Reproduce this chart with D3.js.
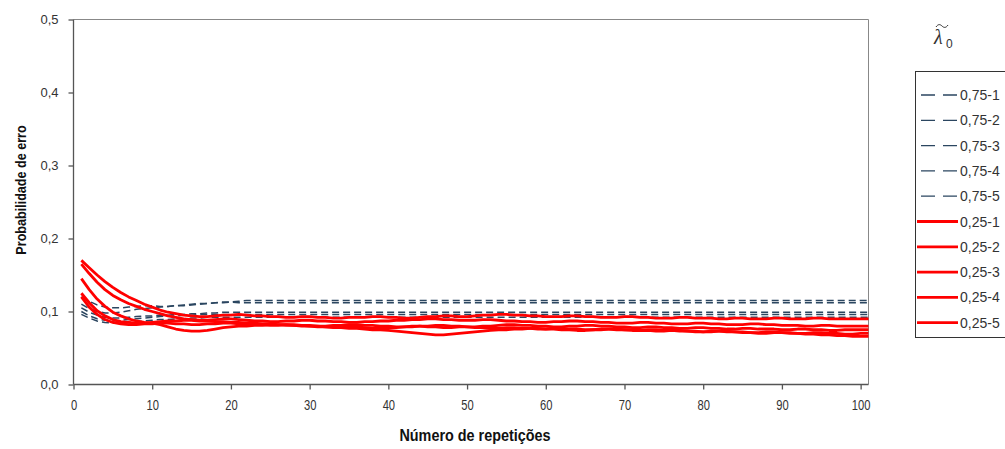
<!DOCTYPE html>
<html>
<head>
<meta charset="utf-8">
<script src="https://cdn.jsdelivr.net/npm/d3@7"></script>
<style>
  body { margin: 0; background: #fff; }
  svg { display: block; }
</style>
</head>
<body>
<div id="chart"></div>
<script>
// Series data, x = 1..101
var seriesNames = ['0,75-1', '0,75-2', '0,75-3', '0,75-4', '0,75-5',
                   '0,25-1', '0,25-2', '0,25-3', '0,25-4', '0,25-5'];

var b1 = [0.120,0.114,0.109,0.106,0.105,0.105,0.106,0.107,0.108,0.108,
          0.107,0.107,0.108,0.109,0.110,0.111,0.111,0.112,0.112,0.113,
          0.114,0.115,0.115,0.115,0.115,0.115,0.115,0.115,0.115,0.115,
          0.115,0.115,0.115,0.115,0.115,0.115,0.115,0.115,0.115,0.115,
          0.115,0.115,0.115,0.115,0.115,0.115,0.115,0.115,0.115,0.115,
          0.115,0.115,0.115,0.115,0.115,0.115,0.115,0.115,0.115,0.115,
          0.115,0.115,0.115,0.115,0.115,0.115,0.115,0.115,0.115,0.115,
          0.115,0.115,0.115,0.115,0.115,0.115,0.115,0.115,0.115,0.115,
          0.115,0.115,0.115,0.115,0.115,0.115,0.115,0.115,0.115,0.115,
          0.115,0.115,0.115,0.115,0.115,0.115,0.115,0.115,0.115,0.115,0.115];
var b2 = [0.110,0.104,0.100,0.098,0.098,0.099,0.101,0.103,0.104,0.105,
          0.106,0.107,0.108,0.108,0.109,0.110,0.111,0.112,0.113,0.113,
          0.112,0.112,0.112,0.112,0.112,0.112,0.112,0.112,0.112,0.112,
          0.112,0.112,0.112,0.112,0.112,0.112,0.112,0.112,0.112,0.112,
          0.112,0.112,0.112,0.112,0.112,0.112,0.112,0.112,0.112,0.112,
          0.112,0.112,0.112,0.112,0.112,0.112,0.112,0.112,0.112,0.112,
          0.112,0.112,0.112,0.112,0.112,0.112,0.112,0.112,0.112,0.112,
          0.112,0.112,0.112,0.112,0.112,0.112,0.112,0.112,0.112,0.112,
          0.112,0.112,0.112,0.112,0.112,0.112,0.112,0.112,0.112,0.112,
          0.112,0.112,0.112,0.112,0.112,0.112,0.112,0.112,0.112,0.112,0.112];
var b3 = [0.105,0.099,0.095,0.092,0.091,0.091,0.092,0.093,0.094,0.094,
          0.095,0.095,0.096,0.096,0.097,0.097,0.098,0.098,0.099,0.099,
          0.099,0.099,0.099,0.099,0.099,0.099,0.099,0.099,0.099,0.099,
          0.099,0.099,0.099,0.099,0.099,0.099,0.099,0.099,0.099,0.099,
          0.099,0.099,0.099,0.099,0.099,0.099,0.099,0.099,0.099,0.099,
          0.099,0.099,0.099,0.099,0.099,0.099,0.099,0.099,0.099,0.099,
          0.099,0.099,0.099,0.099,0.099,0.099,0.099,0.099,0.099,0.099,
          0.099,0.099,0.099,0.099,0.099,0.099,0.099,0.099,0.099,0.099,
          0.099,0.099,0.099,0.099,0.099,0.099,0.099,0.099,0.099,0.099,
          0.099,0.099,0.099,0.099,0.099,0.099,0.099,0.099,0.099,0.099,0.099];
var b4 = [0.100,0.094,0.090,0.088,0.087,0.088,0.089,0.090,0.091,0.092,
          0.093,0.094,0.094,0.095,0.095,0.096,0.096,0.096,0.096,0.096,
          0.096,0.096,0.096,0.096,0.096,0.096,0.096,0.096,0.096,0.096,
          0.096,0.096,0.096,0.096,0.096,0.096,0.096,0.096,0.096,0.096,
          0.096,0.096,0.096,0.096,0.096,0.096,0.096,0.096,0.096,0.096,
          0.096,0.096,0.096,0.096,0.096,0.096,0.096,0.096,0.096,0.096,
          0.096,0.096,0.096,0.096,0.096,0.096,0.096,0.096,0.096,0.096,
          0.096,0.096,0.096,0.096,0.096,0.096,0.096,0.096,0.096,0.096,
          0.096,0.096,0.096,0.096,0.096,0.096,0.096,0.096,0.096,0.096,
          0.096,0.096,0.096,0.096,0.096,0.096,0.096,0.096,0.096,0.096,0.096];
var b5 = [0.096,0.091,0.087,0.085,0.084,0.084,0.085,0.086,0.087,0.088,
          0.089,0.089,0.090,0.090,0.091,0.091,0.092,0.092,0.092,0.092,
          0.092,0.092,0.092,0.092,0.092,0.092,0.092,0.092,0.092,0.092,
          0.092,0.092,0.092,0.092,0.092,0.092,0.092,0.092,0.092,0.092,
          0.092,0.092,0.092,0.092,0.092,0.092,0.092,0.092,0.092,0.092,
          0.092,0.092,0.092,0.092,0.092,0.092,0.092,0.092,0.092,0.092,
          0.092,0.092,0.092,0.092,0.092,0.092,0.092,0.092,0.092,0.092,
          0.092,0.092,0.092,0.092,0.092,0.092,0.092,0.092,0.092,0.092,
          0.092,0.092,0.092,0.092,0.092,0.092,0.092,0.092,0.092,0.092,
          0.092,0.092,0.092,0.092,0.092,0.092,0.092,0.092,0.092,0.092,0.092];

var r1 = [0.170,0.160,0.150,0.141,0.133,0.126,0.120,0.115,0.110,0.106,
          0.102,0.099,0.097,0.095,0.094,0.093,0.093,0.094,0.095,0.095,
          0.096,0.095,0.094,0.094,0.093,0.093,0.092,0.092,0.093,0.093,
          0.092,0.092,0.091,0.091,0.092,0.092,0.092,0.093,0.093,0.092,
          0.092,0.091,0.091,0.092,0.093,0.093,0.094,0.094,0.093,0.093,
          0.094,0.095,0.095,0.096,0.096,0.095,0.095,0.094,0.094,0.093,
          0.093,0.093,0.094,0.094,0.093,0.093,0.092,0.092,0.092,0.093,
          0.093,0.092,0.092,0.091,0.091,0.091,0.092,0.092,0.091,0.091,
          0.091,0.090,0.090,0.091,0.091,0.090,0.090,0.090,0.091,0.091,
          0.090,0.090,0.090,0.091,0.091,0.090,0.090,0.090,0.090,0.090,0.090];
var r2 = [0.165,0.152,0.140,0.130,0.122,0.116,0.111,0.107,0.103,0.100,
          0.097,0.094,0.092,0.090,0.089,0.088,0.088,0.089,0.090,0.090,
          0.089,0.088,0.087,0.087,0.086,0.086,0.087,0.087,0.088,0.088,
          0.087,0.087,0.086,0.086,0.085,0.085,0.086,0.086,0.087,0.087,
          0.088,0.088,0.089,0.089,0.090,0.090,0.089,0.089,0.088,0.088,
          0.088,0.089,0.089,0.088,0.087,0.087,0.086,0.086,0.085,0.085,
          0.086,0.086,0.087,0.087,0.086,0.086,0.085,0.085,0.084,0.084,
          0.084,0.085,0.085,0.084,0.084,0.083,0.083,0.083,0.084,0.084,
          0.083,0.083,0.082,0.082,0.082,0.083,0.083,0.082,0.082,0.081,
          0.081,0.081,0.080,0.080,0.081,0.081,0.080,0.080,0.080,0.080,0.080];
var r3 = [0.145,0.130,0.117,0.107,0.099,0.094,0.090,0.087,0.085,0.084,
          0.082,0.079,0.076,0.074,0.073,0.073,0.074,0.076,0.078,0.079,
          0.080,0.080,0.081,0.081,0.082,0.082,0.081,0.081,0.080,0.080,
          0.079,0.079,0.078,0.078,0.079,0.079,0.078,0.077,0.077,0.078,
          0.078,0.079,0.079,0.080,0.080,0.081,0.081,0.080,0.080,0.079,
          0.079,0.080,0.080,0.081,0.082,0.082,0.081,0.081,0.080,0.080,
          0.079,0.079,0.080,0.080,0.081,0.081,0.080,0.080,0.079,0.079,
          0.078,0.078,0.079,0.079,0.078,0.078,0.077,0.077,0.078,0.078,
          0.077,0.077,0.076,0.076,0.077,0.077,0.076,0.076,0.076,0.075,
          0.075,0.076,0.076,0.075,0.075,0.074,0.074,0.075,0.075,0.075,0.075];
var r4 = [0.125,0.112,0.101,0.094,0.089,0.086,0.085,0.084,0.084,0.085,
          0.086,0.087,0.087,0.088,0.088,0.087,0.087,0.086,0.086,0.085,
          0.085,0.084,0.084,0.083,0.083,0.082,0.082,0.081,0.081,0.080,
          0.080,0.079,0.079,0.078,0.077,0.077,0.076,0.075,0.075,0.074,
          0.073,0.072,0.071,0.070,0.069,0.068,0.068,0.069,0.070,0.071,
          0.072,0.073,0.074,0.075,0.075,0.076,0.076,0.077,0.077,0.076,
          0.076,0.075,0.075,0.074,0.074,0.075,0.075,0.076,0.076,0.075,
          0.075,0.074,0.074,0.073,0.073,0.074,0.074,0.073,0.073,0.072,
          0.072,0.073,0.073,0.072,0.072,0.071,0.071,0.072,0.072,0.071,
          0.071,0.070,0.070,0.071,0.071,0.070,0.070,0.069,0.069,0.070,0.070];
var r5 = [0.120,0.106,0.096,0.089,0.085,0.083,0.082,0.082,0.083,0.083,
          0.084,0.084,0.083,0.083,0.082,0.082,0.083,0.083,0.084,0.084,
          0.083,0.083,0.082,0.082,0.081,0.081,0.082,0.082,0.081,0.081,
          0.080,0.080,0.081,0.081,0.082,0.082,0.081,0.081,0.080,0.080,
          0.079,0.079,0.080,0.080,0.079,0.079,0.078,0.078,0.079,0.079,
          0.078,0.078,0.077,0.077,0.078,0.078,0.077,0.077,0.076,0.076,
          0.077,0.077,0.076,0.076,0.075,0.075,0.076,0.076,0.075,0.075,
          0.074,0.074,0.075,0.075,0.074,0.074,0.073,0.073,0.072,0.072,
          0.073,0.073,0.072,0.072,0.071,0.071,0.070,0.070,0.071,0.071,
          0.070,0.070,0.069,0.069,0.068,0.068,0.067,0.067,0.066,0.066,0.066];

var seriesValues = [b1, b2, b3, b4, b5, r1, r2, r3, r4, r5];
var xTicks = [0, 10, 20, 30, 40, 50, 60, 70, 80, 90, 100];
var yTicks = [0, 0.1, 0.2, 0.3, 0.4, 0.5];

var width = 1005,
    height = 449,
    plotLeft = 73.5,
    plotRight = 868.5,
    plotTop = 19.5,
    plotBottom = 384.5,
    blueColor = '#2b4660',
    redColor = '#ff0000',
    axisColor = '#555',
    sansFont = '"Liberation Sans", Arial, sans-serif';

var svg = d3.select('#chart').append('svg')
            .attr('width', width)
            .attr('height', height);

var x = d3.scaleLinear().domain([0, 101]).range([plotLeft, plotRight]);
var y = d3.scaleLinear().domain([0, 0.5]).range([plotBottom, plotTop]);
var comma = function(v){ return d3.format('.1f')(v).replace('.', ','); };

// plot frame (top and right)
svg.append('path')
   .attr('d', `M${plotLeft},${plotTop}H${plotRight}V${plotBottom}`)
   .attr('fill', 'none')
   .attr('stroke', '#888')
   .attr('stroke-width', 1);

// axes
var yAxis = svg.append('g')
   .attr('transform', `translate(${plotLeft},0)`)
   .call(d3.axisLeft(y).tickValues(yTicks).tickSize(5).tickPadding(10).tickFormat(comma));
var xAxis = svg.append('g')
   .attr('transform', `translate(0,${plotBottom})`)
   .call(d3.axisBottom(x).tickValues(xTicks).tickSize(5).tickPadding(11).tickFormat(d3.format('d')));

yAxis.select('.domain').attr('d', `M0,${plotTop}V${plotBottom}`);
xAxis.select('.domain').attr('d', `M${plotLeft},0H${plotRight}`);
[yAxis, xAxis].forEach(function(a){
  a.selectAll('.domain, .tick line').attr('stroke', axisColor).attr('stroke-width', 1.3);
  a.selectAll('.tick text').attr('fill', '#333');
});
yAxis.selectAll('.tick text')
     .style('font-family', sansFont)
     .style('font-size', '13px');
// narrow look of the x labels
xAxis.selectAll('.tick text')
     .style('font-family', sansFont)
     .style('font-size', '14px')
     .attr('transform', 'scale(0.8,1)');

// axis titles
svg.append('text')
   .attr('transform', `translate(${(plotLeft + plotRight) / 2 + 4},441) scale(0.9,1)`)
   .attr('text-anchor', 'middle')
   .style('font-family', sansFont)
   .style('font-weight', 'bold')
   .style('font-size', '16px')
   .attr('fill', '#111')
   .text('Número de repetições');

svg.append('text')
   .attr('transform', 'translate(26,190) rotate(-90) scale(0.9,1)')
   .attr('text-anchor', 'middle')
   .style('font-family', sansFont)
   .style('font-weight', 'bold')
   .style('font-size', '14px')
   .attr('fill', '#111')
   .text('Probabilidade de erro');

// series lines
var line = d3.line()
             .x(function(d, i){ return x(i + 1); })
             .y(function(d){ return y(d); });

svg.append('g')
   .selectAll('path')
   .data(seriesValues)
   .enter().append('path')
   .attr('d', line)
   .attr('fill', 'none')
   .attr('stroke', function(d, i){ return i < 5 ? blueColor : redColor; })
   .attr('stroke-width', function(d, i){ return i < 5 ? 1.5 : 2.8; })
   .attr('stroke-dasharray', function(d, i){ return i < 5 ? '7,4' : null; })
   .attr('stroke-linejoin', 'round');

// legend
var legend = svg.append('g');
legend.append('rect')
      .attr('x', 915.5)
      .attr('y', 71.5)
      .attr('width', 100)
      .attr('height', 266)
      .attr('fill', '#fff')
      .attr('stroke', '#333')
      .attr('stroke-width', 1);

// lambda, a small tilde drawn above it, and subscript 0
legend.append('text')
      .attr('x', 934)
      .attr('y', 44)
      .style('font-family', '"Liberation Serif", "Times New Roman", serif')
      .style('font-style', 'italic')
      .style('font-size', '20px')
      .attr('fill', '#333')
      .text('λ');
legend.append('path')
      .attr('d', 'M936,27 C938,24 940,24 942,26 S946,28 948,25')
      .attr('fill', 'none')
      .attr('stroke', '#333')
      .attr('stroke-width', 1);
legend.append('text')
      .attr('x', 946)
      .attr('y', 48)
      .style('font-family', sansFont)
      .style('font-size', '12px')
      .attr('fill', '#333')
      .text('0');

var item = legend.selectAll('.item')
      .data(seriesNames)
      .enter().append('g')
      .attr('class', 'item')
      .attr('transform', function(d, i){ return `translate(0,${95 + i * 25.3})`; });

item.append('line')
    .attr('x1', function(d, i){ return i < 5 ? 921 : 917; })
    .attr('x2', 958)
    .attr('stroke', function(d, i){ return i < 5 ? blueColor : redColor; })
    .attr('stroke-width', function(d, i){ return i < 5 ? 1.3 : 2.8; })
    .attr('stroke-dasharray', function(d, i){ return i < 5 ? '14,8' : null; });

item.append('text')
    .attr('x', 960)
    .attr('y', 5)
    .attr('fill', '#333')
    .style('font-family', sansFont)
    .style('font-size', '14px')
    .text(function(d){ return d; });
</script>
</body>
</html>
